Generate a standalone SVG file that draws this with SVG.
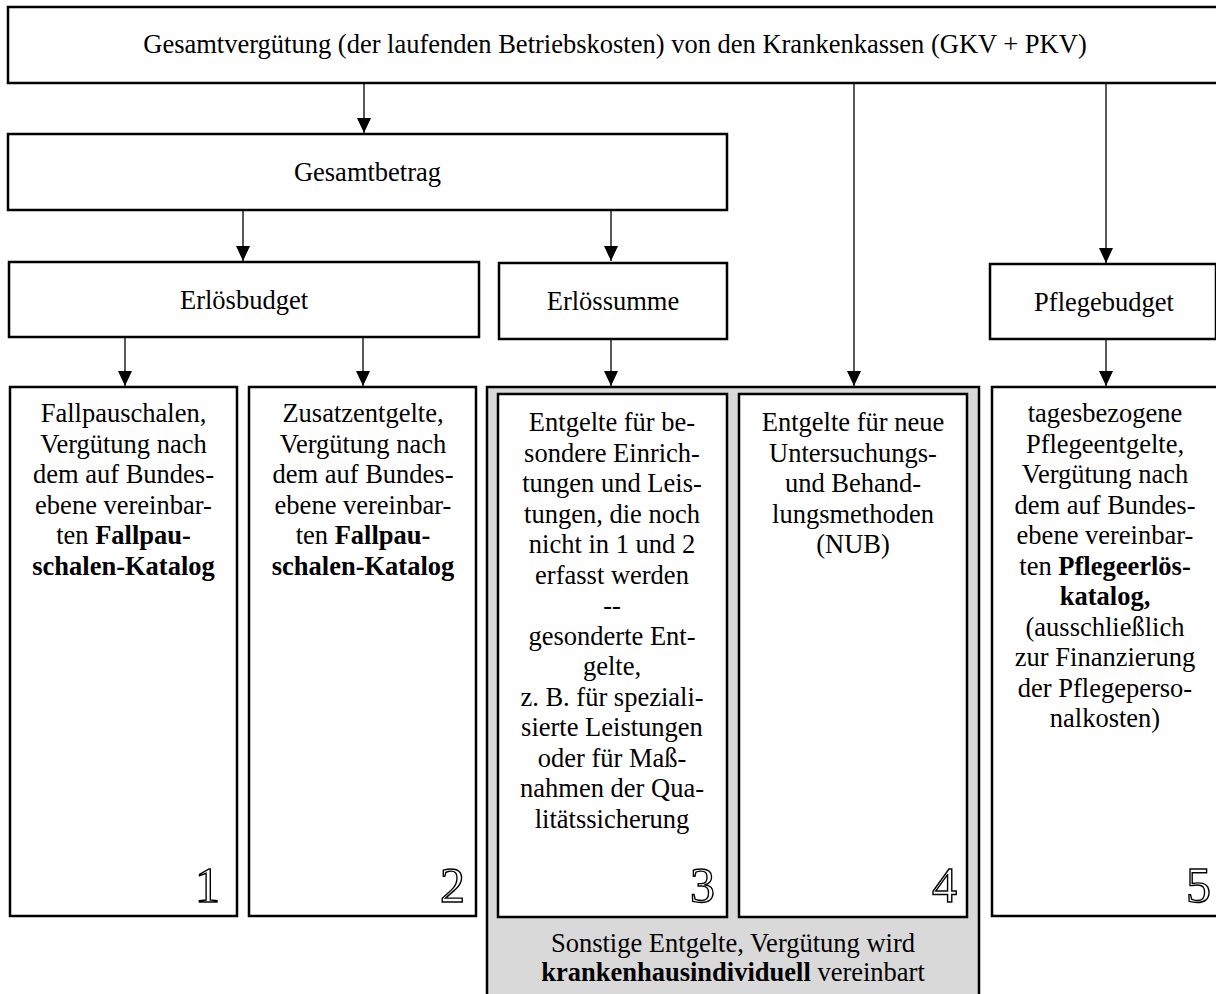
<svg xmlns="http://www.w3.org/2000/svg" width="1216" height="994" viewBox="0 0 1216 994">
<style>
.box{fill:#fff;stroke:#000;stroke-width:2.5}
.gray{fill:#d9d9d9;stroke:#000;stroke-width:2.5}
.t{font-family:"Liberation Serif","Times New Roman",serif;font-size:26.5px;fill:#000;text-anchor:middle}
.b{font-weight:bold}
.num{font-family:"Liberation Serif","Times New Roman",serif;font-size:50px;fill:#fff;stroke:#000;stroke-width:1.4;text-anchor:end}
.c{stroke:#000;stroke-width:1.3;fill:none;marker-end:url(#ah)}
</style>
<defs>
<marker id="ah" markerWidth="15" markerHeight="14" refX="15" refY="7" orient="auto" markerUnits="userSpaceOnUse" viewBox="0 0 15 14">
<path d="M0,0 L15,7 L0,14 Z" fill="#000"/>
</marker>
</defs>

<g id="connectors">
<line class="c" x1="364" y1="84" x2="364" y2="133"/>
<line class="c" x1="854" y1="84" x2="854" y2="386"/>
<line class="c" x1="1106" y1="84" x2="1106" y2="263"/>
<line class="c" x1="243" y1="211" x2="243" y2="261"/>
<line class="c" x1="611" y1="211" x2="611" y2="261"/>
<line class="c" x1="125" y1="338" x2="125" y2="386"/>
<line class="c" x1="363" y1="338" x2="363" y2="386"/>
<line class="c" x1="611" y1="340" x2="611" y2="386"/>
<line class="c" x1="1106" y1="340" x2="1106" y2="386"/>
</g>

<g id="gesamtverguetung">
<rect class="box" x="8" y="7" width="1216" height="76"/>
<text class="t" x="615" y="53">Gesamtvergütung (der laufenden Betriebskosten) von den Krankenkassen (GKV + PKV)</text>
</g>

<g id="gesamtbetrag">
<rect class="box" x="8" y="134" width="719" height="76"/>
<text class="t" x="367.5" y="181">Gesamtbetrag</text>
</g>

<g id="erloesbudget">
<rect class="box" x="9" y="262" width="470" height="75"/>
<text class="t" x="244" y="309">Erlösbudget</text>
</g>

<g id="erloessumme">
<rect class="box" x="499" y="263" width="228" height="76"/>
<text class="t" x="613" y="310">Erlössumme</text>
</g>

<g id="pflegebudget">
<rect class="box" x="990" y="264" width="226" height="75"/>
<text class="t" x="1104" y="311">Pflegebudget</text>
</g>

<g id="box1">
<rect class="box" x="10" y="387" width="227" height="529"/>
<text class="t" x="123.5" y="422">Fallpauschalen,</text>
<text class="t" x="123.5" y="452.5">Vergütung nach</text>
<text class="t" x="123.5" y="483">dem auf Bundes-</text>
<text class="t" x="123.5" y="513.5">ebene vereinbar-</text>
<text class="t" x="123.5" y="544">ten <tspan class="b">Fallpau-</tspan></text>
<text class="t b" x="123.5" y="574.5">schalen-Katalog</text>
<text class="num" x="220" y="902">1</text>
</g>

<g id="box2">
<rect class="box" x="249" y="387" width="227" height="529"/>
<text class="t" x="363" y="422">Zusatzentgelte,</text>
<text class="t" x="363" y="452.5">Vergütung nach</text>
<text class="t" x="363" y="483">dem auf Bundes-</text>
<text class="t" x="363" y="513.5">ebene vereinbar-</text>
<text class="t" x="363" y="544">ten <tspan class="b">Fallpau-</tspan></text>
<text class="t b" x="363" y="574.5">schalen-Katalog</text>
<text class="num" x="465" y="902">2</text>
</g>

<g id="sonstige">
<rect class="gray" x="487" y="387" width="492" height="620"/>
<text class="t" x="733" y="952">Sonstige Entgelte, Vergütung wird</text>
<text class="t" x="733" y="981"><tspan class="b">krankenhausindividuell</tspan> vereinbart</text>
</g>

<g id="box3">
<rect class="box" x="498" y="394" width="229" height="523"/>
<text class="t" x="612" y="431">Entgelte für be-</text>
<text class="t" x="612" y="461.5">sondere Einrich-</text>
<text class="t" x="612" y="492">tungen und Leis-</text>
<text class="t" x="612" y="522.5">tungen, die noch</text>
<text class="t" x="612" y="553">nicht in 1 und 2</text>
<text class="t" x="612" y="583.5">erfasst werden</text>
<text class="t" x="612" y="614">--</text>
<text class="t" x="612" y="644.5">gesonderte Ent-</text>
<text class="t" x="612" y="675">gelte,</text>
<text class="t" x="612" y="705.5">z. B. für speziali-</text>
<text class="t" x="612" y="736">sierte Leistungen</text>
<text class="t" x="612" y="766.5">oder für Maß-</text>
<text class="t" x="612" y="797">nahmen der Qua-</text>
<text class="t" x="612" y="827.5">litätssicherung</text>
<text class="num" x="715" y="902">3</text>
</g>

<g id="box4">
<rect class="box" x="739" y="394" width="228" height="523"/>
<text class="t" x="853" y="431">Entgelte für neue</text>
<text class="t" x="853" y="461.5">Untersuchungs-</text>
<text class="t" x="853" y="492">und Behand-</text>
<text class="t" x="853" y="522.5">lungsmethoden</text>
<text class="t" x="853" y="553">(NUB)</text>
<text class="num" x="957" y="902">4</text>
</g>

<g id="box5">
<rect class="box" x="992" y="387" width="226" height="529"/>
<text class="t" x="1105" y="422">tagesbezogene</text>
<text class="t" x="1105" y="452.5">Pflegeentgelte,</text>
<text class="t" x="1105" y="483">Vergütung nach</text>
<text class="t" x="1105" y="513.5">dem auf Bundes-</text>
<text class="t" x="1105" y="544">ebene vereinbar-</text>
<text class="t" x="1105" y="574.5">ten <tspan class="b">Pflegeerlös-</tspan></text>
<text class="t b" x="1105" y="605">katalog,</text>
<text class="t" x="1105" y="635.5">(ausschließlich</text>
<text class="t" x="1105" y="666">zur Finanzierung</text>
<text class="t" x="1105" y="696.5">der Pflegeperso-</text>
<text class="t" x="1105" y="727">nalkosten)</text>
<text class="num" x="1211" y="902">5</text>
</g>
</svg>
